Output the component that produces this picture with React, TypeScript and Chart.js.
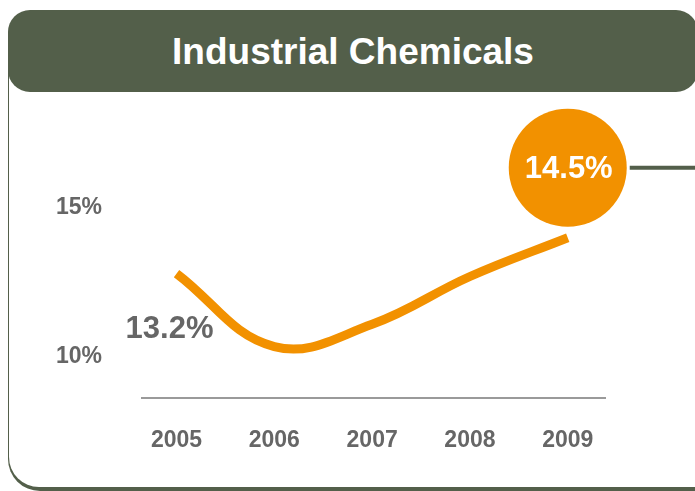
import React, { useEffect, useRef } from "react";
import { Chart, registerables } from "chart.js";

Chart.register(...registerables);

const title = "Industrial Chemicals";
const years = [2005, 2006, 2007, 2008, 2009];
const growth = [12.8, 10.35, 11.1, 12.7, 14.0];
const yTicks = [10, 15];
const startLabel = "13.2%";
const endLabel = "14.5%";

const ORANGE = "#F29100";
const GREEN = "#535F4A";
const GREY = "#666666";
const FONT = "'Liberation Sans', Arial, Helvetica, sans-serif";

export default function App() {
  const ref = useRef<HTMLCanvasElement>(null);

  useEffect(() => {
    const canvas = ref.current;
    if (!canvas) return;

    const annot = {
      id: "annot",
      afterDatasetsDraw(chart: any) {
        const ctx = chart.ctx;
        const meta = chart.getDatasetMeta(0);
        const first = meta.data[0];
        const last = meta.data[meta.data.length - 1];
        ctx.save();
        ctx.textAlign = "center";
        ctx.textBaseline = "middle";
        ctx.fillStyle = GREY;
        ctx.font = `bold 31px ${FONT}`;
        ctx.fillText(startLabel, first.x - 7, first.y + 56);

        const cx = last.x;
        const cy = last.y - 70;
        const r = 59;
        ctx.strokeStyle = GREEN;
        ctx.lineWidth = 4;
        ctx.beginPath();
        ctx.moveTo(cx + r + 3, cy);
        ctx.lineTo(chart.width, cy);
        ctx.stroke();
        ctx.fillStyle = ORANGE;
        ctx.beginPath();
        ctx.arc(cx, cy, r, 0, Math.PI * 2);
        ctx.fill();
        ctx.fillStyle = "#ffffff";
        ctx.font = `bold 31px ${FONT}`;
        ctx.fillText(endLabel, cx + 1, cy + 2);
        ctx.restore();
      },
    };

    const chart = new Chart(canvas, {
      type: "line",
      data: {
        datasets: [
          {
            data: years.map((x, i) => ({ x, y: growth[i] })),
            borderColor: ORANGE,
            borderWidth: 9,
            borderCapStyle: "butt",
            tension: 0.4,
            pointRadius: 0,
            fill: false,
            clip: false as any,
          },
        ],
      },
      options: {
        responsive: false,
        animation: false,
        devicePixelRatio: 1,
        layout: { padding: { top: 178, right: 90, left: 0, bottom: 0 } },
        plugins: { legend: { display: false }, tooltip: { enabled: false } },
        scales: {
          x: {
            type: "linear",
            min: 2004.647,
            max: 2009.381,
            afterBuildTicks: (s: any) => {
              s.ticks = years.map((v) => ({ value: v }));
            },
            afterFit: (s: any) => {
              s.height = 93;
            },
            grid: { display: false, drawTicks: false },
            border: { display: true, color: "#9a9a9a", width: 2 },
            ticks: {
              autoSkip: false,
              maxRotation: 0,
              padding: 29,
              color: GREY,
              font: { family: FONT, size: 23, weight: "bold" },
              callback: (v: any) => String(v),
            },
          },
          y: {
            min: 8.63,
            max: 16,
            afterBuildTicks: (s: any) => {
              s.ticks = yTicks.map((v) => ({ value: v }));
            },
            afterFit: (s: any) => {
              s.width = 142;
            },
            grid: { display: false, drawTicks: false },
            border: { display: false },
            ticks: {
              padding: 40,
              color: GREY,
              font: { family: FONT, size: 23, weight: "bold" },
              callback: (v: any) => v + "%",
            },
          },
        },
      },
      plugins: [annot],
    } as any);

    return () => chart.destroy();
  }, []);

  return (
    <div
      style={{
        position: "absolute",
        left: 0,
        top: 0,
        width: 695,
        height: 491,
        overflow: "hidden",
        background: "#ffffff",
      }}
    >
      <div
        style={{
          position: "absolute",
          left: 8,
          top: 40,
          width: 720,
          height: 451,
          background: GREEN,
          borderBottomLeftRadius: 32,
        }}
      />
      <div
        style={{
          position: "absolute",
          left: 9,
          top: 40,
          width: 720,
          height: 447,
          background: "#ffffff",
          borderBottomLeftRadius: 30,
        }}
      />
      <div
        style={{
          position: "absolute",
          left: 8,
          top: 10,
          width: 690,
          height: 82,
          background: GREEN,
          borderRadius: 22,
          color: "#ffffff",
          fontFamily: FONT,
          fontWeight: "bold",
          fontSize: 37,
          lineHeight: "84px",
          textAlign: "center",
          overflow: "hidden",
        }}
      >
        {title}
      </div>
      <canvas
        ref={ref}
        width={695}
        height={491}
        style={{ position: "absolute", left: 0, top: 0, width: 695, height: 491 }}
      />
    </div>
  );
}
